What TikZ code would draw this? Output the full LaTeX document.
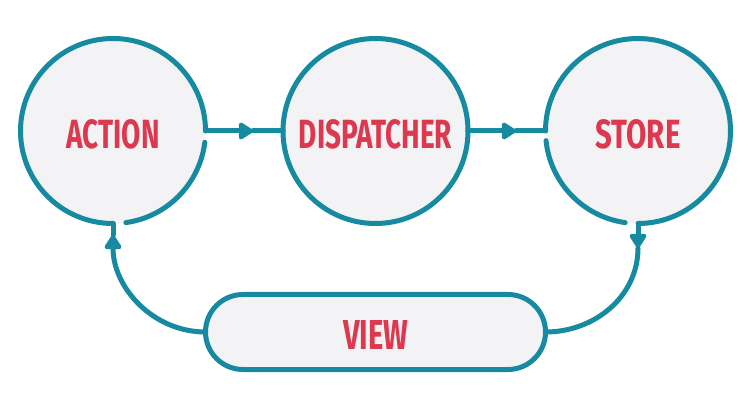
\documentclass[tikz,border=0pt]{standalone}
\usepackage{fontspec}
\usepackage{graphicx}
\usetikzlibrary{arrows.meta}
\newfontfamily\lblfont{Fira Sans}
\definecolor{fluxteal}{RGB}{21,138,160}
\definecolor{fluxred}{RGB}{222,56,78}
\definecolor{fluxfill}{RGB}{243,243,246}
\newcommand{\lbl}[2]{\raisebox{-3pt}[29pt][0pt]{\resizebox{#1}{29pt}{\lblfont\bfseries #2}}}
\tikzset{
  flowcircle/.style={circle, fill=fluxfill, minimum size=185pt, inner sep=0pt, outer sep=0pt, text=fluxred},
  ring/.style={draw=fluxteal, line width=5pt, line cap=round},
  conn/.style={draw=fluxteal, line width=5pt, line cap=round},
  tip/.style={-{Triangle[length=16pt,width=19pt,round]}},
  viewbox/.style={rectangle, rounded corners=37.5pt, draw=fluxteal, fill=fluxfill, line width=5pt,
    minimum width=340pt, minimum height=75pt, inner sep=0pt, outer sep=0pt, text=fluxred}
}
\begin{document}
\begin{tikzpicture}[x=1pt,y=1pt]
\useasboundingbox (0,0) rectangle (750,410);
% nodes
\node[flowcircle] (action) at (113,279) {\lbl{93pt}{ACTION}};
\node[flowcircle, draw=fluxteal, line width=5pt] (disp) at (375.5,279) {\lbl{153pt}{DISPATCHER}};
\node[flowcircle] (store) at (638,279) {\lbl{85pt}{STORE}};
\node[viewbox] (view) at (375.5,78) {\lbl{65pt}{VIEW}};
% circle outlines with gaps
\draw[ring] (action.0) arc[start angle=0, end angle=270, radius=92.5pt];
\draw[ring] (action.-82) arc[start angle=-82, end angle=-7, radius=92.5pt];
\draw[ring] (store.186) arc[start angle=186, end angle=262, radius=92.5pt];
\draw[ring] (store.270) arc[start angle=270, end angle=540, radius=92.5pt];
% arrow tip coordinates
\coordinate (t1) at (253,279);
\coordinate (t2) at (516,279);
\coordinate (t3) at (113,175);
\coordinate (t4) at (638,162);
% connectors
\draw[conn, tip] (action.east) -- (t1);
\draw[conn] (t1) -- (disp.west);
\draw[conn, tip] (disp.east) -- (t2);
\draw[conn] (t2) -- (store.west);
\draw[conn, tip] (view.west) to[out=180, in=-90] (t3);
\draw[conn] (t3) -- (action.south);
\draw[conn, tip] (store.south) -- (t4);
\draw[conn] (t4) to[out=-90, in=0] (view.east);
\end{tikzpicture}
\end{document}
